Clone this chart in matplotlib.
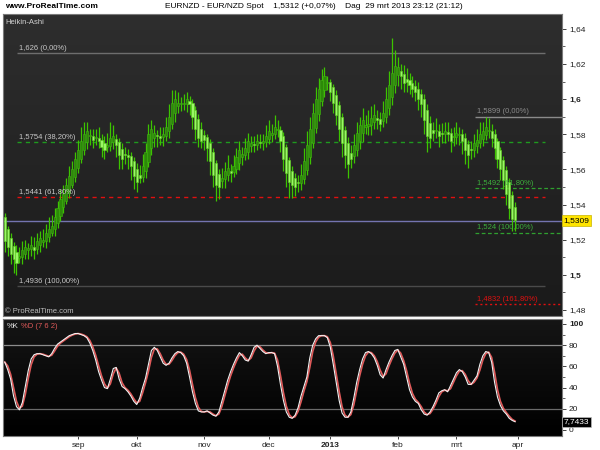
import numpy as np
import pandas as pd
import matplotlib
matplotlib.use('Agg')
import matplotlib.pyplot as plt

plt.rcParams['font.family'] = ['Liberation Sans', 'DejaVu Sans']

# Heikin-Ashi closes, EUR/NZD daily, 30 jul 2012 - 29 mrt 2013
ha_close = [1.519, 1.516, 1.512, 1.509, 1.507, 1.510, 1.514, 1.516, 1.515, 1.517,
            1.514, 1.519, 1.521, 1.520, 1.524, 1.526, 1.528, 1.533, 1.538, 1.543,
            1.546, 1.551, 1.556, 1.560, 1.566, 1.571, 1.576, 1.580, 1.582, 1.579,
            1.577, 1.578, 1.576, 1.573, 1.571, 1.574, 1.578, 1.579, 1.574, 1.568,
            1.566, 1.568, 1.567, 1.562, 1.556, 1.553, 1.555, 1.562, 1.570, 1.580,
            1.583, 1.581, 1.579, 1.578, 1.580, 1.584, 1.590, 1.598, 1.600, 1.598,
            1.597, 1.598, 1.600, 1.597, 1.590, 1.583, 1.578, 1.576, 1.577, 1.572,
            1.565, 1.557, 1.551, 1.550, 1.555, 1.559, 1.561, 1.558, 1.562, 1.567,
            1.571, 1.569, 1.572, 1.576, 1.575, 1.574, 1.576, 1.575, 1.576, 1.579,
            1.582, 1.581, 1.584, 1.583, 1.576, 1.566, 1.558, 1.553, 1.551, 1.550,
            1.552, 1.557, 1.565, 1.574, 1.583, 1.592, 1.600, 1.606, 1.611, 1.613,
            1.610, 1.604, 1.598, 1.591, 1.583, 1.575, 1.568, 1.563, 1.566, 1.574,
            1.581, 1.585, 1.588, 1.585, 1.586, 1.589, 1.591, 1.588, 1.586, 1.592,
            1.600, 1.608, 1.615, 1.619, 1.618, 1.613, 1.609, 1.610, 1.608, 1.606,
            1.604, 1.600, 1.597, 1.588, 1.579, 1.578, 1.581, 1.582, 1.579, 1.580,
            1.582, 1.580, 1.576, 1.579, 1.581, 1.580, 1.576, 1.571, 1.568, 1.571,
            1.575, 1.577, 1.580, 1.582, 1.584, 1.582, 1.578, 1.572, 1.566, 1.560,
            1.554, 1.546, 1.538, 1.532, 1.5312]
first_open = 1.533

# wick lengths above / below the body, in 0.001
wick_up = [2, 2, 3, 2, 4, 6, 5, 4, 3, 5,
           6, 5, 4, 6, 5, 7, 6, 5, 4, 6,
           5, 4, 6, 5, 4, 6, 8, 7, 5, 4,
           4, 5, 6, 3, 4, 7, 9, 6, 3, 2,
           3, 4, 3, 2, 2, 3, 6, 7, 5, 6,
           5, 4, 3, 5, 4, 6, 7, 7, 5, 6,
           4, 5, 4, 3, 2, 2, 3, 4, 3, 2,
           2, 2, 2, 3, 6, 5, 7, 4, 6, 5,
           5, 4, 6, 5, 4, 5, 4, 5, 4, 6,
           6, 5, 7, 5, 2, 2, 2, 2, 3, 3,
           4, 6, 7, 8, 7, 6, 7, 6, 6, 5,
           3, 2, 2, 3, 2, 2, 2, 3, 5, 6,
           6, 5, 7, 6, 8, 7, 6, 5, 4, 7,
           7, 8, 20, 9, 6, 4, 5, 6, 4, 4,
           3, 4, 3, 3, 3, 4, 5, 7, 4, 6,
           5, 6, 3, 5, 6, 4, 3, 3, 2, 5,
           5, 6, 7, 5, 6, 7, 4, 3, 2, 2,
           2, 2, 2, 2, 3]
wick_dn = [6, 5, 6, 8, 7, 3, 4, 3, 5, 4,
           5, 3, 4, 3, 4, 3, 2, 4, 3, 3,
           3, 2, 3, 2, 3, 3, 2, 3, 4, 5,
           5, 4, 4, 6, 5, 3, 3, 4, 7, 8,
           6, 5, 7, 8, 7, 6, 3, 3, 4, 3,
           4, 5, 6, 4, 5, 3, 4, 3, 5, 4,
           4, 3, 5, 6, 7, 6, 5, 4, 6, 7,
           8, 7, 9, 7, 4, 5, 3, 5, 3, 3,
           4, 5, 3, 4, 3, 4, 3, 3, 4, 3,
           3, 4, 3, 4, 6, 7, 8, 9, 7, 5,
           5, 4, 3, 3, 4, 3, 3, 4, 3, 4,
           4, 5, 6, 6, 7, 8, 7, 8, 5, 4,
           3, 4, 5, 4, 5, 6, 4, 5, 4, 3,
           3, 4, 5, 5, 6, 7, 5, 6, 5, 5,
           5, 6, 7, 8, 9, 6, 5, 4, 6, 5,
           5, 4, 6, 5, 4, 6, 7, 8, 7, 5,
           4, 4, 3, 4, 3, 4, 5, 6, 5, 6,
           5, 6, 6, 7, 6]

# Stochastic %K (7 6 2)
stoch_k = [64, 57, 48, 32, 22, 19, 26, 41, 56, 67,
           71, 72, 72, 71, 70, 69, 72, 77, 81, 83,
           85, 87, 89, 90, 91, 91, 90, 89, 87, 82,
           75, 66, 55, 47, 40, 39, 48, 58, 59, 48,
           41, 39, 36, 32, 27, 24, 30, 40, 49, 62,
           75, 78, 75, 69, 63, 61, 63, 68, 72, 74,
           73, 70, 63, 50, 36, 25, 18, 17, 17, 18,
           16, 14, 13, 17, 27, 37, 47, 55, 62, 68,
           73, 70, 66, 65, 71, 78, 80, 77, 74, 72,
           73, 73, 72, 60, 43, 28, 17, 12, 11, 14,
           21, 32, 41, 50, 68, 80, 86, 89, 89, 89,
           87, 78, 62, 45, 28, 16, 12, 12, 17, 30,
           45, 57, 67, 73, 74, 72, 68, 61, 52, 49,
           57, 64, 70, 75, 76, 69, 62, 50, 38, 31,
           27, 25, 19, 15, 14, 17, 22, 28, 35, 37,
           38, 36, 42, 48, 54, 57, 55, 50, 43, 43,
           47, 51, 62, 70, 74, 73, 64, 45, 31, 23,
           18, 15, 11, 9, 7.7433]

fib_a = [1.626, 1.5754, 1.5441, 1.4936]
fib_a_labels = ['1,626 (0,00%)', '1,5754 (38,20%)', '1,5441 (61,80%)', '1,4936 (100,00%)']
fib_b = [1.5899, 1.5492, 1.524, 1.4832]
fib_b_labels = ['1,5899 (0,00%)', '1,5492 (61,80%)', '1,524 (100,00%)', '1,4832 (161,80%)']
last_price = 1.5309

month_labels = ['sep', 'okt', 'nov', 'dec', '2013', 'feb', 'mrt', 'apr']
price_ticks = [1.48, 1.5, 1.52, 1.54, 1.56, 1.58, 1.6, 1.62, 1.64]
price_tick_labels = ['1,48', '1,5', '1,52', '1,54', '1,56', '1,58', '1,6', '1,62', '1,64']
stoch_ticks = [0, 20, 40, 60, 80, 100]

# HA open / high / low
c = np.array(ha_close)
o = np.empty_like(c)
o[0] = first_open
for i in range(1, len(c)):
    o[i] = (o[i - 1] + c[i - 1]) / 2
hi = np.maximum(o, c) + np.array(wick_up) * 0.001
lo = np.minimum(o, c) - np.array(wick_dn) * 0.001
x = np.arange(len(c))
up = c >= o

dates = pd.bdate_range('2012-07-30', '2013-04-01')
month_pos = [i for i in range(1, len(dates))
             if dates[i].month != dates[i - 1].month and dates[i].month != 8]

fig = plt.figure(figsize=(6, 4.5), dpi=100, facecolor='white')
ax = fig.add_axes([0.005, 0.2978, 0.9317, 0.671])
ax2 = fig.add_axes([0.005, 0.0311, 0.9317, 0.26])

xlim = (-0.6, 190)


def gradient(a, top, bottom):
    g = np.linspace(0, 1, 256)[:, None]
    t = np.array(matplotlib.colors.to_rgb(top))
    b = np.array(matplotlib.colors.to_rgb(bottom))
    img = t[None, None, :] * (1 - g[:, :, None]) + b[None, None, :] * g[:, :, None]
    a.imshow(img, extent=[0, 1, 0, 1], transform=a.transAxes, aspect='auto', zorder=0)


gradient(ax, '#2e2e2e', '#1a1a1a')
gradient(ax2, '#151515', '#000000')

# candles
ax.vlines(x, lo, hi, color='#3cc400', lw=0.9, zorder=3)
ax.bar(x[up], np.maximum(c[up] - o[up], 0.0006), bottom=o[up], width=0.72,
       color='#2c8a08', edgecolor='#40b810', lw=0.4, zorder=4)
ax.bar(x[~up], np.maximum(o[~up] - c[~up], 0.0006), bottom=c[~up], width=0.72,
       color='#9af766', edgecolor='#62d424', lw=0.4, zorder=4)

# fibonacci sets
a0, a1 = 4.2, 184.2
ax.hlines(fib_a[0], a0, a1, color='#6e6e6e', lw=1, zorder=2)
ax.hlines(fib_a[1], a0, a1, color='#1f9a1f', lw=1, linestyles=(0, (3, 3)), zorder=2)
ax.hlines(fib_a[2], a0, a1, color='#e01010', lw=1, linestyles=(0, (3, 3)), zorder=2)
ax.hlines(fib_a[3], a0, a1, color='#4a4a4a', lw=1, zorder=2)
for v, s in zip(fib_a, fib_a_labels):
    ax.text(a0 + 0.8, v + 0.0008, s, color='#c8c8c8', fontsize=5.5, va='bottom', zorder=5)

b0, b1 = 160.4, 190
ax.hlines(fib_b[0], b0, b1, color='#8a8a8a', lw=1, zorder=2)
ax.hlines(fib_b[1], b0, b1, color='#2fa02f', lw=0.9, linestyles=(0, (3, 2)), zorder=2)
ax.hlines(fib_b[2], b0, b1, color='#2fa02f', lw=0.9, linestyles=(0, (3, 2)), zorder=2)
ax.hlines(fib_b[3], b0, b1, color='#e01010', lw=1, linestyles=(0, (1.5, 2)), zorder=2)
b_colors = ['#8a8a8a', '#3cb03c', '#3cb03c', '#e01010']
for v, s, col in zip(fib_b, fib_b_labels, b_colors):
    ax.text(b0 + 0.7, v + 0.0008, s, color=col, fontsize=5.5, va='bottom', zorder=5)

ax.axhline(last_price, color='#7474b0', lw=1, zorder=2)

ax.set_xlim(*xlim)
ax.set_ylim(1.4766, 1.6484)
ax.set_xticks([])
ax.yaxis.tick_right()
ax.set_yticks(price_ticks)
ax.set_yticklabels(price_tick_labels)
ax.set_yticks(np.arange(1.49, 1.65, 0.02), minor=True)
ax.tick_params(axis='y', which='major', labelsize=6, length=3, width=0.6, pad=2, colors='#222222')
ax.tick_params(axis='y', which='minor', length=2, width=0.6, colors='#444444')
for lab in ax.get_yticklabels():
    if lab.get_text() in ('1,6', '1,5'):
        lab.set_fontweight('bold')
for sp in ax.spines.values():
    sp.set_color('#7a7a7a')
    sp.set_linewidth(0.8)

ax.text(0.004, 0.985, 'Heikin-Ashi', transform=ax.transAxes, color='#d0d0d0',
        fontsize=5.5, va='top', zorder=6)
ax.text(0.004, 0.003, '\u00a9 ProRealTime.com', transform=ax.transAxes, color='#bdbdbd',
        fontsize=5.5, va='bottom', zorder=6)
ax.text(1.003, last_price, '1,5309', transform=ax.get_yaxis_transform(), fontsize=6,
        va='center', ha='left', color='black', zorder=7, clip_on=False,
        bbox=dict(boxstyle='square,pad=0.2', fc='#ffe400', ec='#c8b400', lw=0.5))

# stochastic
k = np.array(stoch_k, dtype=float)
d = pd.Series(k).rolling(2, min_periods=1).mean().values
ax2.axhline(80, color='#8c8c8c', lw=0.9, zorder=1)
ax2.axhline(20, color='#6a6a6a', lw=0.9, zorder=1)
ax2.plot(x, d, color='#e05a5a', lw=1.2, zorder=3)
ax2.plot(x, k, color='#f2f2f2', lw=0.8, zorder=4)
ax2.set_xlim(*xlim)
ax2.set_ylim(-5.7, 104.7)
ax2.yaxis.tick_right()
ax2.set_yticks(stoch_ticks)
ax2.set_yticklabels([str(t) for t in stoch_ticks])
ax2.set_yticks(range(10, 100, 20), minor=True)
ax2.tick_params(axis='y', which='major', labelsize=6, length=3, width=0.6, pad=2, colors='#222222')
ax2.tick_params(axis='y', which='minor', length=2, width=0.6, colors='#444444')
ax2.get_yticklabels()[-1].set_fontweight('bold')
ax2.set_xticks(month_pos)
ax2.set_xticklabels(month_labels)
ax2.tick_params(axis='x', labelsize=6, length=2, width=0.6, pad=2, colors='#222222')
for lab in ax2.get_xticklabels():
    if lab.get_text() == '2013':
        lab.set_fontweight('bold')
for sp in ax2.spines.values():
    sp.set_color('#7a7a7a')
    sp.set_linewidth(0.8)
ax2.text(0.006, 0.97, '%K', transform=ax2.transAxes, color='#e8e8e8', fontsize=5.5, va='top')
ax2.text(0.032, 0.97, '%D (7 6 2)', transform=ax2.transAxes, color='#e05a5a', fontsize=5.5, va='top')
ax2.text(1.003, stoch_k[-1], '7,7433', transform=ax2.get_yaxis_transform(), fontsize=6,
         va='center', ha='left', color='white', zorder=7, clip_on=False,
         bbox=dict(boxstyle='square,pad=0.2', fc='black', ec='#bbbbbb', lw=0.5))

# header
fig.text(5 / 600, 1 - 7 / 450, 'www.ProRealTime.com', fontsize=6, fontweight='bold', va='center')
fig.text(165 / 600, 1 - 7 / 450,
         'EURNZD - EUR/NZD Spot    1,5312 (+0,07%)    Dag  29 mrt 2013 23:12 (21:12)',
         fontsize=6, va='center')

fig.savefig('out.png', dpi=100, facecolor='white')
